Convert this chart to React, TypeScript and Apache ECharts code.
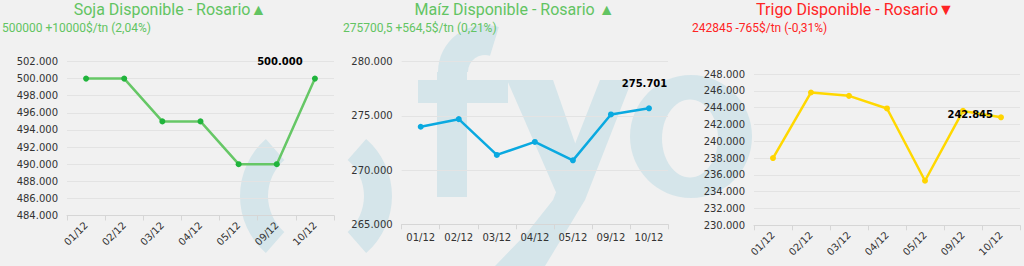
import React, { useEffect, useRef } from 'react';
import * as echarts from 'echarts';

const categories = ['01/12', '02/12', '03/12', '04/12', '05/12', '09/12', '10/12'];
const sojaValues = [500000, 500000, 495000, 495000, 490000, 490000, 500000];
const maizValues = [274000, 274700, 271400, 272600, 270900, 275136, 275700.5];
const trigoValues = [238000, 245800, 245400, 243900, 235300, 243610, 242845];

const sojaRange = [484000, 502000, 2000];
const maizRange = [265000, 280000, 5000];
const trigoRange = [230000, 248000, 2000];

const titles = ['Soja Disponible - Rosario▲', 'Maíz Disponible - Rosario ▲', 'Trigo Disponible - Rosario▼'];
const subtitles = ['500000 +10000$/tn (2,04%)', '275700,5 +564,5$/tn (0,21%)', '242845 -765$/tn (-0,31%)'];

const BG = '#f1f1f1';
const WM = '#d5e5ea';
const GREEN = '#62c462';
const RED = '#ff2424';

const fmt = (v: number) => Math.round(v).toString().replace(/\B(?=(\d{3})+(?!\d))/g, '.');

const axisFont = { fontFamily: 'DejaVu Sans', fontSize: 10, color: '#333' };

function makeData(values: number[], label: any) {
  return values.map((v, i) =>
    i === values.length - 1
      ? {
          value: v,
          label: {
            show: true,
            formatter: (p: any) => fmt(p.value),
            fontFamily: 'DejaVu Sans',
            fontSize: 10,
            fontWeight: 'bold',
            color: '#000',
            ...label,
          },
        }
      : v
  );
}

export default function App() {
  const ref = useRef<HTMLDivElement>(null);
  useEffect(() => {
    document.body.style.margin = '0';
    const chart = echarts.init(ref.current!, null, { renderer: 'svg' });
    const grids = [
      { left: 67, top: 61.5, width: 267, height: 154 },
      { left: 401.7, top: 61.7, width: 266.3, height: 162.6 },
      { left: 754, top: 74, width: 266, height: 151.3 },
    ];
    const ranges = [sojaRange, maizRange, trigoRange];
    const rotations = [45, 0, 45];
    const option: any = {
      animation: false,
      backgroundColor: BG,
      grid: grids,
      xAxis: grids.map((_, i) => ({
        type: 'category',
        gridIndex: i,
        data: categories,
        boundaryGap: true,
        axisLine: { lineStyle: { color: '#d6d6d6' } },
        axisTick: { show: true, length: 5, lineStyle: { color: '#d6d6d6' } },
        axisLabel: { ...axisFont, rotate: rotations[i], margin: 8, interval: 0 },
      })),
      yAxis: grids.map((_, i) => ({
        type: 'value',
        gridIndex: i,
        min: ranges[i][0],
        max: ranges[i][1],
        interval: ranges[i][2],
        axisLine: { show: false },
        axisTick: { show: false },
        splitLine: { lineStyle: { color: '#e3e3e3' } },
        axisLabel: { ...axisFont, margin: 9, formatter: (v: number) => fmt(v) },
      })),
      series: [
        {
          type: 'line',
          xAxisIndex: 0,
          yAxisIndex: 0,
          data: makeData(sojaValues, { position: 'top', offset: [-35, -4] }),
          symbol: 'circle',
          symbolSize: 6,
          lineStyle: { color: '#66c766', width: 2.5 },
          itemStyle: { color: '#20b43c' },
        },
        {
          type: 'line',
          xAxisIndex: 1,
          yAxisIndex: 1,
          data: makeData(maizValues, { position: 'top', offset: [-4.5, -12] }),
          symbol: 'circle',
          symbolSize: 6,
          lineStyle: { color: '#0aa9e0', width: 2.5 },
          itemStyle: { color: '#0aa9e0' },
        },
        {
          type: 'line',
          xAxisIndex: 2,
          yAxisIndex: 2,
          data: makeData(trigoValues, { position: 'left', distance: 5, offset: [0, -3] }),
          symbol: 'circle',
          symbolSize: 6,
          lineStyle: { color: '#ffd800', width: 2.5 },
          itemStyle: { color: '#ffd400' },
        },
      ],
      graphic: [
        // watermark "( )"
        { type: 'sector', z: -10, silent: true, shape: { cx: 316, cy: 196, r: 76, r0: 48, startAngle: Math.PI - 0.85, endAngle: Math.PI + 0.85 }, style: { fill: WM } },
        { type: 'sector', z: -10, silent: true, shape: { cx: 316, cy: 196, r: 76, r0: 48, startAngle: -0.85, endAngle: 0.85 }, style: { fill: WM } },
        // "f"
        { type: 'rect', z: -10, silent: true, shape: { x: 437, y: 72, width: 30, height: 125 }, style: { fill: WM } },
        { type: 'rect', z: -10, silent: true, shape: { x: 418, y: 80, width: 90, height: 23 }, style: { fill: WM } },
        { type: 'sector', z: -10, silent: true, shape: { cx: 485, cy: 72, r: 47, r0: 17, startAngle: Math.PI, endAngle: Math.PI * 1.5 + 0.3 }, style: { fill: WM } },
        // "y"
        { type: 'polygon', z: -10, silent: true, shape: { points: [[507, 80], [553, 80], [588, 180], [572, 208], [562, 206]] }, style: { fill: WM } },
        { type: 'polygon', z: -10, silent: true, shape: { points: [[600, 80], [632, 80], [585, 200], [562, 238], [545, 266], [495, 266], [526, 234], [553, 200]] }, style: { fill: WM } },
        // "o"
        { type: 'ellipse', z: -10, silent: true, shape: { cx: 691, cy: 136.5, rx: 61, ry: 61.5 }, style: { fill: WM } },
        { type: 'ellipse', z: -9, silent: true, shape: { cx: 690, cy: 138.5, rx: 28, ry: 39 }, style: { fill: BG } },
        // titles
        ...[170, 514.5, 855].map((cx, i) => ({
          type: 'text',
          z: 100,
          silent: true,
          style: { text: titles[i], x: cx, y: 1.5, fill: i === 2 ? RED : GREEN, fontFamily: 'Roboto', fontSize: 16, align: 'center', verticalAlign: 'top' },
        })),
        ...[2, 343, 692].map((x, i) => ({
          type: 'text',
          z: 100,
          silent: true,
          style: { text: subtitles[i], x, y: 22, fill: i === 2 ? RED : GREEN, fontFamily: 'Roboto', fontSize: 12, align: 'left', verticalAlign: 'top' },
        })),
      ],
    };
    chart.setOption(option);
    return () => chart.dispose();
  }, []);
  return <div ref={ref} style={{ width: 1024, height: 266 }} />;
}
